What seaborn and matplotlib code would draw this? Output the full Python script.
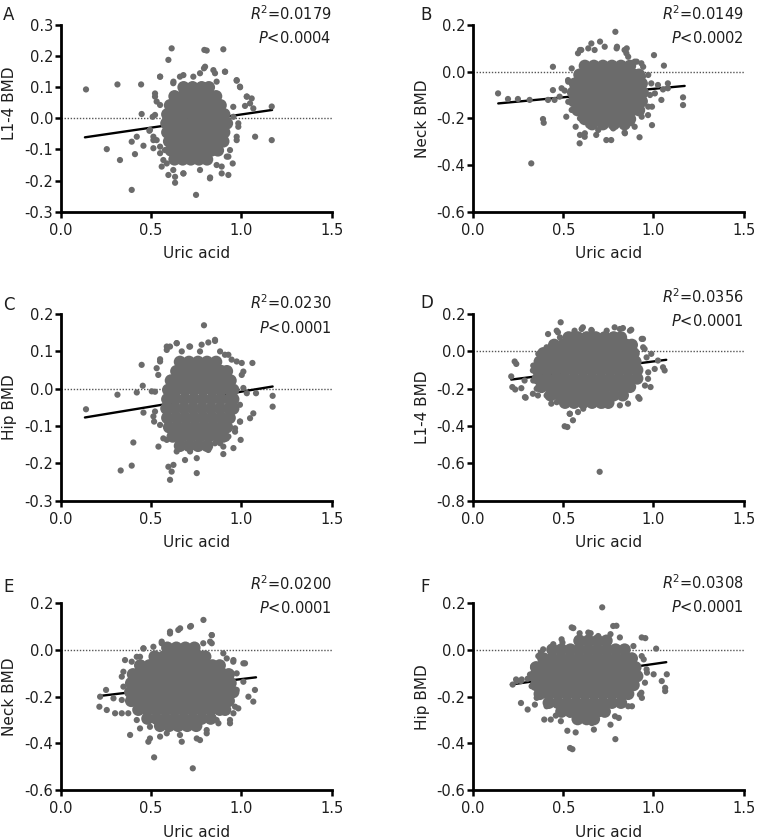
import matplotlib
matplotlib.use("Agg")
import matplotlib.pyplot as plt
import seaborn as sns

# ---------------- data ----------------
letters = ["A", "B", "C", "D", "E", "F"]
ylabels = ["L1-4 BMD", "Neck BMD", "Hip BMD", "L1-4 BMD", "Neck BMD", "Hip BMD"]
ylims = [(-0.3, 0.3), (-0.6, 0.2), (-0.3, 0.2), (-0.8, 0.2), (-0.6, 0.2), (-0.6, 0.2)]
ysteps = [0.1, 0.2, 0.1, 0.2, 0.2, 0.2]
r2_texts = ["0.0179", "0.0149", "0.0230", "0.0356", "0.0200", "0.0308"]
p_texts = ["0.0004", "0.0002", "0.0001", "0.0001", "0.0001", "0.0001"]
xticks = [0.0, 0.5, 1.0, 1.5]

# fitted regression lines: (x, y) at both ends
A_fit = [(0.134, -0.061), (1.170, 0.027)]
B_fit = [(0.140, -0.136), (1.173, -0.061)]
C_fit = [(0.134, -0.077), (1.173, 0.006)]
D_fit = [(0.212, -0.151), (1.071, -0.045)]
E_fit = [(0.214, -0.197), (1.081, -0.117)]
F_fit = [(0.210, -0.148), (1.071, -0.052)]

# dense core of each cloud: rows of (y, [x ...])
A_core = [
    (0.100, [0.68, 0.73, 0.78, 0.82]),
    (0.071, [0.63, 0.675, 0.72, 0.77, 0.815, 0.86]),
    (0.042, [0.605, 0.65, 0.70, 0.745, 0.79, 0.84, 0.885]),
    (0.013, [0.59, 0.635, 0.68, 0.725, 0.77, 0.82, 0.865, 0.905]),
    (-0.016, [0.585, 0.63, 0.675, 0.72, 0.765, 0.81, 0.855, 0.90, 0.92]),
    (-0.045, [0.59, 0.635, 0.68, 0.725, 0.77, 0.815, 0.86, 0.905]),
    (-0.074, [0.60, 0.645, 0.69, 0.735, 0.78, 0.825, 0.87, 0.90]),
    (-0.103, [0.61, 0.655, 0.70, 0.745, 0.79, 0.835, 0.87]),
    (-0.132, [0.63, 0.675, 0.72, 0.765, 0.81]),
]
B_core = [
    (0.025, [0.62, 0.67, 0.72, 0.77, 0.82, 0.87]),
    (-0.013, [0.59, 0.64, 0.69, 0.74, 0.79, 0.84, 0.89, 0.92]),
    (-0.051, [0.565, 0.615, 0.665, 0.715, 0.765, 0.815, 0.865, 0.915, 0.935]),
    (-0.089, [0.555, 0.60, 0.65, 0.70, 0.75, 0.80, 0.85, 0.90, 0.94]),
    (-0.127, [0.56, 0.61, 0.66, 0.71, 0.76, 0.81, 0.86, 0.91, 0.935]),
    (-0.165, [0.58, 0.63, 0.68, 0.73, 0.78, 0.83, 0.88, 0.92]),
    (-0.203, [0.62, 0.67, 0.72, 0.77, 0.82, 0.87]),
    (-0.225, [0.66, 0.72, 0.78, 0.84]),
]
C_core = [
    (0.072, [0.66, 0.71, 0.76, 0.81, 0.86]),
    (0.047, [0.64, 0.69, 0.74, 0.79, 0.84, 0.89, 0.92]),
    (0.022, [0.61, 0.66, 0.71, 0.76, 0.81, 0.86, 0.91, 0.94]),
    (-0.003, [0.595, 0.64, 0.69, 0.74, 0.79, 0.84, 0.89, 0.94, 0.955]),
    (-0.028, [0.59, 0.635, 0.685, 0.735, 0.785, 0.835, 0.885, 0.935, 0.955]),
    (-0.053, [0.585, 0.63, 0.68, 0.73, 0.78, 0.83, 0.88, 0.93, 0.955]),
    (-0.078, [0.59, 0.64, 0.69, 0.74, 0.79, 0.84, 0.89, 0.935]),
    (-0.103, [0.60, 0.65, 0.70, 0.75, 0.80, 0.85, 0.90, 0.92]),
    (-0.128, [0.62, 0.67, 0.72, 0.77, 0.82, 0.87, 0.90]),
    (-0.153, [0.66, 0.71, 0.76, 0.81]),
]
D_core = [
    (0.075, [0.53, 0.58, 0.63, 0.68, 0.73, 0.78, 0.82]),
    (0.035, [0.45, 0.50, 0.55, 0.60, 0.65, 0.70, 0.75, 0.80, 0.85, 0.88]),
    (-0.010, [0.39, 0.44, 0.49, 0.54, 0.59, 0.64, 0.69, 0.74, 0.79, 0.84, 0.89]),
    (-0.055, [0.37, 0.42, 0.47, 0.52, 0.57, 0.62, 0.67, 0.72, 0.77, 0.82, 0.87, 0.90]),
    (-0.100, [0.36, 0.41, 0.46, 0.51, 0.56, 0.61, 0.66, 0.71, 0.76, 0.81, 0.86, 0.91]),
    (-0.145, [0.36, 0.41, 0.46, 0.51, 0.56, 0.61, 0.66, 0.71, 0.76, 0.81, 0.86, 0.91]),
    (-0.190, [0.38, 0.43, 0.48, 0.53, 0.58, 0.63, 0.68, 0.73, 0.78, 0.83, 0.87]),
    (-0.235, [0.43, 0.48, 0.53, 0.58, 0.63, 0.68, 0.73, 0.78, 0.83]),
    (-0.275, [0.51, 0.56, 0.61, 0.66, 0.71, 0.75]),
]
E_core = [
    (0.010, [0.59, 0.64, 0.69, 0.74]),
    (-0.028, [0.52, 0.57, 0.62, 0.67, 0.72, 0.77, 0.80]),
    (-0.066, [0.44, 0.49, 0.54, 0.59, 0.64, 0.69, 0.74, 0.79, 0.84, 0.88]),
    (-0.104, [0.40, 0.45, 0.50, 0.55, 0.60, 0.65, 0.70, 0.75, 0.80, 0.85, 0.90, 0.93]),
    (-0.142, [0.39, 0.44, 0.49, 0.54, 0.59, 0.64, 0.69, 0.74, 0.79, 0.84, 0.89, 0.94]),
    (-0.180, [0.385, 0.43, 0.48, 0.53, 0.58, 0.63, 0.68, 0.73, 0.78, 0.83, 0.88, 0.93, 0.955]),
    (-0.218, [0.39, 0.44, 0.49, 0.54, 0.59, 0.64, 0.69, 0.74, 0.79, 0.84, 0.89, 0.93]),
    (-0.256, [0.43, 0.48, 0.53, 0.58, 0.63, 0.68, 0.73, 0.78, 0.83, 0.88, 0.91]),
    (-0.294, [0.48, 0.53, 0.58, 0.63, 0.68, 0.73, 0.78, 0.83]),
    (-0.325, [0.55, 0.60, 0.65, 0.70, 0.75]),
]
F_core = [
    (0.040, [0.59, 0.64, 0.69, 0.74]),
    (0.002, [0.44, 0.49, 0.54, 0.59, 0.64, 0.69, 0.74, 0.79, 0.84]),
    (-0.036, [0.39, 0.44, 0.49, 0.54, 0.59, 0.64, 0.69, 0.74, 0.79, 0.84, 0.88]),
    (-0.074, [0.35, 0.40, 0.45, 0.50, 0.55, 0.60, 0.65, 0.70, 0.75, 0.80, 0.85, 0.90]),
    (-0.112, [0.34, 0.39, 0.44, 0.49, 0.54, 0.59, 0.64, 0.69, 0.74, 0.79, 0.84, 0.89, 0.91]),
    (-0.150, [0.35, 0.40, 0.45, 0.50, 0.55, 0.60, 0.65, 0.70, 0.75, 0.80, 0.85, 0.89]),
    (-0.188, [0.37, 0.42, 0.47, 0.52, 0.57, 0.62, 0.67, 0.72, 0.77, 0.82, 0.86]),
    (-0.226, [0.42, 0.47, 0.52, 0.57, 0.62, 0.67, 0.72, 0.77, 0.82]),
    (-0.264, [0.49, 0.54, 0.59, 0.64, 0.69, 0.73]),
    (-0.296, [0.58, 0.63, 0.67]),
]

# scattered individual points around each cloud: (x, y)
A_pts = [(0.140, 0.093), (0.314, 0.109), (0.445, 0.109), (0.448, 0.014), (0.255, -0.099),
         (0.328, -0.134), (0.393, -0.230), (0.411, -0.115), (0.393, -0.075), (0.421, -0.059),
         (0.458, -0.088), (0.491, -0.040), (0.509, 0.005), (0.513, -0.070), (0.522, 0.070),
         (0.531, 0.054), (0.550, 0.134), (0.596, 0.188), (0.614, 0.225), (0.795, 0.220),
         (0.808, 0.218), (0.900, 0.222), (0.793, 0.161), (0.845, 0.155), (0.910, 0.150),
         (0.974, 0.121), (0.993, 0.100), (1.030, 0.070), (1.057, 0.064), (1.020, 0.040),
         (1.066, 0.032), (1.168, 0.038), (1.168, -0.070), (1.076, -0.059), (0.974, -0.059),
         (0.983, -0.016), (0.956, 0.005), (0.937, -0.102), (0.952, -0.145), (0.928, -0.182),
         (0.891, -0.177), (0.827, -0.190), (0.749, -0.246), (0.633, -0.207), (0.596, -0.182),
         (0.679, -0.177), (0.559, -0.155), (0.568, -0.134), (0.550, -0.091), (0.531, -0.070),
         (0.863, -0.150), (0.919, -0.123), (0.854, 0.145), (0.771, 0.145), (0.660, 0.134),
         (0.624, 0.118)]
A_edge = [(0.679, 0.139), (0.734, 0.134), (0.799, 0.166), (0.909, 0.150), (0.974, 0.123),
          (0.992, 0.102), (1.030, 0.070), (1.048, 0.048), (0.550, 0.134), (0.522, 0.080),
          (0.550, 0.043), (0.522, 0.011), (0.494, -0.037), (0.513, -0.059), (0.513, -0.096),
          (0.550, -0.112), (0.587, -0.145), (0.623, -0.166), (0.679, -0.177), (0.771, -0.166),
          (0.826, -0.193), (0.891, -0.155), (0.928, -0.123), (0.974, -0.070), (0.983, -0.027),
          (0.955, 0.037), (0.863, 0.118), (0.623, 0.113), (0.633, -0.188), (0.577, -0.102)]
B_pts = [(0.139, -0.093), (0.194, -0.117), (0.249, -0.117), (0.314, -0.121), (0.388, -0.203),
         (0.392, -0.219), (0.323, -0.393), (0.443, 0.021), (0.443, -0.079), (0.416, -0.121),
         (0.452, -0.121), (0.480, -0.107), (0.508, -0.081), (0.517, -0.193), (0.527, -0.036),
         (0.582, 0.079), (0.600, 0.093), (0.656, 0.121), (0.674, 0.093), (0.730, 0.107),
         (0.789, 0.171), (0.798, 0.107), (0.840, 0.093), (0.850, 0.079), (0.896, 0.043),
         (0.933, 0.036), (1.003, 0.071), (1.058, 0.026), (0.988, -0.050), (1.025, -0.057),
         (1.053, -0.076), (1.080, -0.050), (1.044, -0.121), (0.992, -0.150), (0.992, -0.229),
         (0.970, -0.186), (0.923, -0.281), (0.896, -0.236), (0.840, -0.261), (0.766, -0.293),
         (0.739, -0.293), (0.683, -0.271), (0.619, -0.279), (0.591, -0.307), (0.569, -0.236),
         (1.164, -0.110), (1.164, -0.143), (1.080, -0.071), (0.942, -0.021)]
B_edge = [(0.593, 0.093), (0.639, 0.100), (0.704, 0.129), (0.796, 0.100), (0.852, 0.100),
          (0.860, 0.064), (0.907, 0.043), (0.943, 0.021), (0.547, 0.014), (0.528, -0.043),
          (0.491, -0.071), (0.528, -0.129), (0.547, -0.164), (0.593, -0.200), (0.639, -0.229),
          (0.694, -0.250), (0.777, -0.243), (0.842, -0.264), (0.879, -0.221), (0.935, -0.193),
          (0.971, -0.150), (0.981, -0.100), (0.971, -0.014), (1.008, -0.093), (0.593, -0.271),
          (0.620, -0.264)]
C_pts = [(0.140, -0.055), (0.314, -0.016), (0.421, -0.010), (0.448, 0.064), (0.454, 0.008),
         (0.458, -0.064), (0.402, -0.144), (0.393, -0.206), (0.332, -0.219), (0.504, -0.007),
         (0.513, -0.074), (0.517, -0.088), (0.531, 0.055), (0.550, 0.079), (0.587, 0.104),
         (0.605, 0.113), (0.642, 0.122), (0.670, 0.100), (0.712, 0.113), (0.771, 0.100),
         (0.793, 0.170), (0.817, 0.124), (0.854, 0.128), (0.882, 0.100), (0.928, 0.091),
         (0.946, 0.078), (1.002, 0.069), (1.061, 0.069), (1.011, 0.046), (1.030, -0.012),
         (1.081, -0.012), (1.173, -0.019), (1.173, -0.048), (1.066, -0.066), (1.048, -0.079),
         (0.993, -0.088), (0.996, -0.137), (0.965, -0.106), (0.956, -0.159), (0.900, -0.175),
         (0.882, -0.146), (0.928, -0.128), (0.817, -0.164), (0.753, -0.186), (0.753, -0.226),
         (0.688, -0.191), (0.624, -0.204), (0.596, -0.209), (0.614, -0.222), (0.605, -0.244),
         (0.541, -0.155), (0.568, -0.133)]
C_edge = [(0.587, 0.113), (0.642, 0.122), (0.716, 0.113), (0.780, 0.118), (0.854, 0.131),
          (0.909, 0.091), (0.974, 0.073), (1.002, 0.037), (1.011, 0.002), (0.992, -0.043),
          (0.992, -0.088), (0.965, -0.115), (0.919, -0.133), (0.854, -0.146), (0.789, -0.151),
          (0.716, -0.168), (0.642, -0.168), (0.587, -0.137), (0.550, -0.097), (0.522, -0.061),
          (0.522, -0.008), (0.540, 0.037), (0.550, 0.073), (0.623, -0.133), (0.900, -0.155)]
D_pts = [(0.231, -0.054), (0.240, -0.067), (0.212, -0.134), (0.218, -0.191), (0.234, -0.204),
         (0.268, -0.197), (0.292, -0.248), (0.286, -0.156), (0.332, -0.102), (0.332, -0.227),
         (0.508, -0.401), (0.523, -0.405), (0.554, -0.369), (0.536, -0.334), (0.702, -0.645),
         (0.471, 0.102), (0.486, 0.156), (0.563, 0.111), (0.609, 0.129), (0.656, 0.115),
         (0.785, 0.129), (0.831, 0.125), (0.877, 0.116), (0.942, 0.067), (0.951, 0.013),
         (0.988, -0.013), (1.025, -0.049), (1.053, -0.085), (1.062, -0.102), (1.007, -0.094),
         (0.970, -0.147), (0.984, -0.191), (0.923, -0.254), (0.859, -0.280), (0.748, -0.289),
         (0.674, -0.271), (0.582, -0.325), (0.434, -0.280), (0.360, -0.236), (0.416, 0.093)]
D_edge = [(0.464, 0.111), (0.482, 0.075), (0.556, 0.093), (0.602, 0.120), (0.658, 0.111),
          (0.741, 0.111), (0.814, 0.120), (0.870, 0.111), (0.935, 0.067), (0.943, 0.022),
          (0.962, -0.032), (0.971, -0.112), (0.953, -0.183), (0.916, -0.245), (0.814, -0.289),
          (0.722, -0.289), (0.611, -0.307), (0.537, -0.334), (0.464, -0.272), (0.408, -0.236),
          (0.353, -0.200), (0.334, -0.156), (0.288, -0.245), (0.334, -0.076), (0.362, -0.013),
          (0.408, 0.022), (0.399, -0.005)]
E_pts = [(0.214, -0.243), (0.218, -0.200), (0.251, -0.171), (0.255, -0.257), (0.301, -0.271),
         (0.338, -0.271), (0.292, -0.207), (0.384, -0.364), (0.439, -0.336), (0.485, -0.393),
         (0.517, -0.460), (0.550, -0.371), (0.670, -0.393), (0.731, -0.507), (0.771, -0.386),
         (0.808, -0.357), (0.873, -0.314), (0.937, -0.314), (0.956, -0.271), (0.983, -0.250),
         (1.039, -0.200), (1.066, -0.221), (1.075, -0.171), (1.011, -0.136), (1.020, -0.057),
         (0.956, -0.043), (0.919, -0.036), (0.836, 0.064), (0.827, 0.036), (0.790, 0.129),
         (0.721, 0.103), (0.661, 0.093), (0.605, 0.079), (0.559, 0.036), (0.458, 0.007),
         (0.356, -0.043), (0.421, -0.029), (0.338, -0.114)]
E_edge = [(0.559, 0.029), (0.605, 0.071), (0.651, 0.086), (0.716, 0.100), (0.836, 0.064),
          (0.789, 0.029), (0.836, 0.029), (0.900, -0.014), (0.955, -0.050), (1.011, -0.057),
          (0.974, -0.100), (0.974, -0.171), (0.965, -0.243), (0.937, -0.300), (0.863, -0.300),
          (0.808, -0.343), (0.753, -0.379), (0.660, -0.364), (0.587, -0.357), (0.494, -0.379),
          (0.494, -0.329), (0.421, -0.300), (0.374, -0.271), (0.338, -0.214), (0.347, -0.157),
          (0.347, -0.093), (0.393, -0.050), (0.439, -0.029), (0.458, 0.007), (0.513, 0.014)]
F_pts = [(0.220, -0.148), (0.239, -0.126), (0.266, -0.133), (0.303, -0.123), (0.266, -0.227),
         (0.303, -0.255), (0.343, -0.234), (0.395, -0.298), (0.431, -0.298), (0.459, -0.281),
         (0.487, -0.305), (0.523, -0.346), (0.569, -0.353), (0.538, -0.420), (0.551, -0.425),
         (0.670, -0.341), (0.762, -0.320), (0.789, -0.382), (0.808, -0.291), (0.881, -0.241),
         (0.936, -0.205), (0.933, -0.183), (1.001, -0.104), (0.964, -0.097), (1.074, -0.104),
         (1.046, -0.133), (1.065, -0.162), (1.065, -0.176), (1.015, 0.006), (0.955, 0.051),
         (0.716, 0.183), (0.795, 0.104), (0.762, 0.068), (0.652, 0.072), (0.591, 0.072),
         (0.556, 0.094), (0.496, 0.032), (0.367, -0.025), (0.376, -0.011), (0.946, -0.040)]
F_edge = [(0.547, 0.097), (0.639, 0.075), (0.694, 0.060), (0.777, 0.103), (0.814, 0.054),
          (0.935, 0.054), (0.889, 0.017), (0.935, -0.026), (0.962, -0.083), (0.953, -0.140),
          (0.925, -0.191), (0.860, -0.241), (0.787, -0.284), (0.722, -0.263), (0.658, -0.313),
          (0.602, -0.284), (0.537, -0.277), (0.482, -0.255), (0.408, -0.241), (0.353, -0.205),
          (0.325, -0.155), (0.316, -0.105), (0.334, -0.069), (0.362, -0.026), (0.389, 0.003),
          (0.445, 0.025), (0.491, 0.046), (0.270, -0.126), (0.242, -0.133)]

cores = [A_core, B_core, C_core, D_core, E_core, F_core]
pts_all = [A_pts + A_edge, B_pts + B_edge, C_pts + C_edge,
           D_pts + D_edge, E_pts + E_edge, F_pts + F_edge]
fits = [A_fit, B_fit, C_fit, D_fit, E_fit, F_fit]

# ---------------- styling / layout ----------------
sns.set_theme(style="ticks")
plt.rcParams["font.family"] = ["DejaVu Sans"]
plt.rcParams["mathtext.fontset"] = "dejavusans"
plt.rcParams["axes.unicode_minus"] = False

GRAY = "#6b6b6b"
TXT = "#1e1e1e"

fig = plt.figure(figsize=(7.57, 8.4), dpi=100)

col_left = [0.0802, 0.6248]
col_w = [0.358, 0.3576]
row_bottom = [0.748, 0.4039, 0.0595]
row_h = 0.2222

# per panel text placement (axes fraction)
r2_y = [1.027, 1.027, 1.027, 1.062, 1.071, 1.077]
p_y = [0.902, 0.902, 0.901, 0.937, 0.946, 0.952]
ylab_y = [0.582, 0.5, 0.5, 0.5, 0.5, 0.5]
letter_xy = [(3, 20), (420, 20), (3, 310), (420, 308), (3, 591.7), (420, 591.7)]

for i in range(6):
    r, c = divmod(i, 2)
    ax = fig.add_axes([col_left[c], row_bottom[r], col_w[c], row_h])

    ax.axhline(0, color="#555555", lw=1.0, ls=(0, (1, 1.2)), zorder=1)

    fx = [p[0] for p in fits[i]]
    fy = [p[1] for p in fits[i]]
    sns.lineplot(x=fx, y=fy, color="black", lw=1.7, errorbar=None, ax=ax, zorder=2)

    cx, cy = [], []
    for yv, xs in cores[i]:
        for xv in xs:
            cx.append(xv)
            cy.append(yv)
    sns.scatterplot(x=cx, y=cy, s=80, color=GRAY, edgecolor="none", linewidth=0,
                    ax=ax, zorder=3)
    px = [p[0] for p in pts_all[i]]
    py = [p[1] for p in pts_all[i]]
    sns.scatterplot(x=px, y=py, s=20, color=GRAY, edgecolor="none", linewidth=0,
                    ax=ax, zorder=3)

    lo, hi = ylims[i]
    ax.set_xlim(0, 1.5)
    ax.set_ylim(lo, hi)
    ax.set_xticks(xticks)
    ax.set_xticklabels([f"{v:.1f}" for v in xticks])
    n = int(round((hi - lo) / ysteps[i]))
    yt = [round(lo + k * ysteps[i], 2) for k in range(n + 1)]
    ax.set_yticks(yt)
    ax.set_yticklabels([f"{v:.1f}" for v in yt])

    for sp in ["top", "right"]:
        ax.spines[sp].set_visible(False)
    for sp in ["left", "bottom"]:
        ax.spines[sp].set_linewidth(2.0)
        ax.spines[sp].set_color("black")
    ax.tick_params(axis="both", direction="out", length=4, width=1.8, colors="black",
                   labelcolor=TXT, labelsize=10.5)
    ax.tick_params(axis="y", pad=1.5)
    ax.tick_params(axis="x", pad=4)

    ax.set_xlabel("Uric acid", fontsize=11, color=TXT)
    ax.set_ylabel(ylabels[i], fontsize=11, color=TXT)
    ax.xaxis.set_label_coords(0.5, -0.185)
    ax.yaxis.set_label_coords(-0.16, ylab_y[i])

    ax.text(1.0, r2_y[i], r"$R$" + r"$^{2}$" + "=" + r2_texts[i], transform=ax.transAxes,
            ha="right", va="baseline", fontsize=10.5, color=TXT)
    ax.text(1.0, p_y[i], r"$P$" + "<" + p_texts[i], transform=ax.transAxes,
            ha="right", va="baseline", fontsize=10.5, color=TXT)

    lx, ly = letter_xy[i]
    fig.text(lx / 757, 1 - ly / 840, letters[i], ha="left", va="baseline",
             fontsize=12, color=TXT)

fig.savefig("out.png", dpi=100)
